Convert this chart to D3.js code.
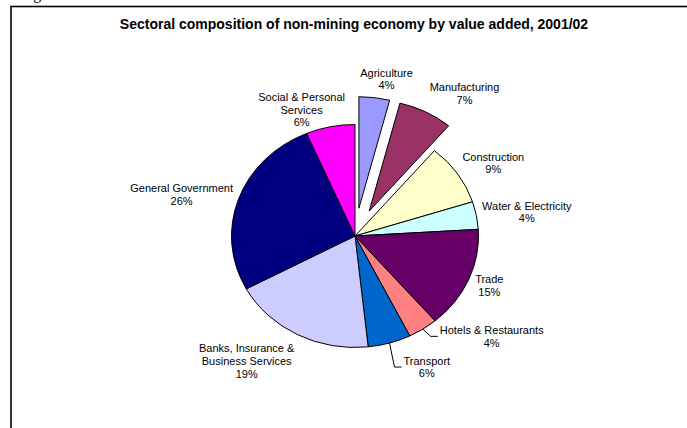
<!DOCTYPE html>
<html>
<head>
<meta charset="utf-8">
<script src="https://cdn.jsdelivr.net/npm/d3@7"></script>
<style>
  html, body { margin: 0; padding: 0; background: #fff; }
  svg { display: block; }
  text { font-family: "Liberation Sans", Arial, sans-serif; fill: #000; }
</style>
</head>
<body>
<script>
// Sectors of the non-mining economy, clockwise from 12 o'clock
const sectors = [
  "Agriculture", "Manufacturing", "Construction", "Water & Electricity", "Trade",
  "Hotels & Restaurants", "Transport", "Banks, Insurance & Business Services",
  "General Government", "Social & Personal Services"
];
// Share of value added (%)
const shares = [4.0, 7.1, 8.9, 4.0, 14.7, 3.9, 5.6, 18.8, 26.4, 6.4];
// Slices pulled out of the pie
const exploded = ["Agriculture", "Manufacturing"];
// Label text, split into lines
const labelLines = [
  ["Agriculture"], ["Manufacturing"], ["Construction"], ["Water & Electricity"], ["Trade"],
  ["Hotels & Restaurants"], ["Transport"], ["Banks, Insurance &", "Business Services"],
  ["General Government"], ["Social & Personal", "Services"]
];
// Labels that are joined to their slice by a leader line
const leaderLabels = ["Hotels & Restaurants", "Transport"];
const chartTitle = "Sectoral composition of non-mining economy by value added, 2001/02";

// ---- layout ----
const W = 687, H = 428;
const palette = ["#9999FF", "#993366", "#FFFFCC", "#CCFFFF", "#660066",
                 "#FF8080", "#0066CC", "#CCCCFF", "#000080", "#FF00FF"];
const cx = 355, cy = 236;       // pie centre
const R = 111.5;                // vertical radius
const sx = 123.5 / 111.5;       // horizontal stretch of the pie
const explodeDist = 28;
const lineH = 12.7;
// centre x and first-line centre y of each label block
const labelAt = {
  "Agriculture": [386.5, 72.7],
  "Manufacturing": [464.5, 87],
  "Construction": [493.3, 156.7],
  "Water & Electricity": [526.8, 205.7],
  "Trade": [489.3, 279.3],
  "Hotels & Restaurants": [491.7, 330],
  "Transport": [426.8, 360.7],
  "Banks, Insurance & Business Services": [246.7, 348.3],
  "General Government": [181.6, 188],
  "Social & Personal Services": [301.6, 97]
};

const svg = d3.select("body").append("svg")
  .attr("width", W).attr("height", H);

svg.append("rect").attr("width", W).attr("height", H).attr("fill", "#fff");

// caption running in from above the frame
svg.append("text")
  .attr("x", 20).attr("y", -1)
  .style("font-family", "'Liberation Serif', 'Times New Roman', serif")
  .style("font-size", "16px")
  .text("Figure");

// chart frame
svg.append("rect")
  .attr("x", 11).attr("y", 6.5)
  .attr("width", W + 20).attr("height", H + 20)
  .attr("fill", "none").attr("stroke", "#000").attr("stroke-width", 1.6);

svg.append("text")
  .attr("x", 354).attr("y", 29)
  .attr("text-anchor", "middle")
  .style("font-size", "14px").style("font-weight", "bold")
  .text(chartTitle);

const data = sectors.map((s, i) => ({ sector: s, value: shares[i], color: palette[i], lines: labelLines[i] }));
const total = d3.sum(shares);

const pie = d3.pie().sort(null).value(d => d.value).startAngle(0).endAngle(2 * Math.PI);
const arcs = pie(data);
const arc = d3.arc().innerRadius(0).outerRadius(R);

// point on the (stretched) pie for a given angle and radius
const pt = (a, r, off) => [cx + off[0] + Math.sin(a) * r * sx, cy + off[1] - Math.cos(a) * r];
const offsetOf = d => {
  if (!exploded.includes(d.data.sector)) return [0, 0];
  const m = (d.startAngle + d.endAngle) / 2;
  return [Math.sin(m) * explodeDist * sx, -Math.cos(m) * explodeDist];
};

const slices = svg.append("g");
slices.selectAll("path")
  .data(arcs)
  .join("path")
  .attr("transform", d => {
    const o = offsetOf(d);
    return `translate(${cx + o[0]},${cy + o[1]}) scale(${sx},1)`;
  })
  .attr("d", arc)
  .attr("fill", d => d.data.color)
  .attr("stroke", "#000")
  .attr("stroke-width", 1)
  .attr("vector-effect", "non-scaling-stroke")
  .attr("stroke-linejoin", "round");

// labels
const pctFmt = v => Math.round(v / total * 100) + "%";
const labels = svg.append("g");
arcs.forEach(d => {
  const [lx, ly] = labelAt[d.data.sector];
  const lines = d.data.lines.concat([pctFmt(d.data.value)]);
  const g = labels.append("g");
  let maxW = 0;
  lines.forEach((t, k) => {
    const tx = g.append("text")
      .attr("x", lx).attr("y", ly + k * lineH + 4)
      .attr("text-anchor", "middle")
      .style("font-size", "11px")
      .text(t);
    maxW = Math.max(maxW, tx.node().getComputedTextLength());
  });
  if (leaderLabels.includes(d.data.sector)) {
    const m = (d.startAngle + d.endAngle) / 2;
    const start = pt(m, R, offsetOf(d));
    const left = lx - maxW / 2;
    const my = ly + (lines.length - 1) * lineH / 2;
    const path = d3.path();
    path.moveTo(start[0], start[1]);
    path.lineTo(left - 9, my);
    path.lineTo(left - 2, my);
    labels.append("path")
      .attr("d", path.toString())
      .attr("fill", "none").attr("stroke", "#000").attr("stroke-width", 1);
  }
});
</script>
</body>
</html>
